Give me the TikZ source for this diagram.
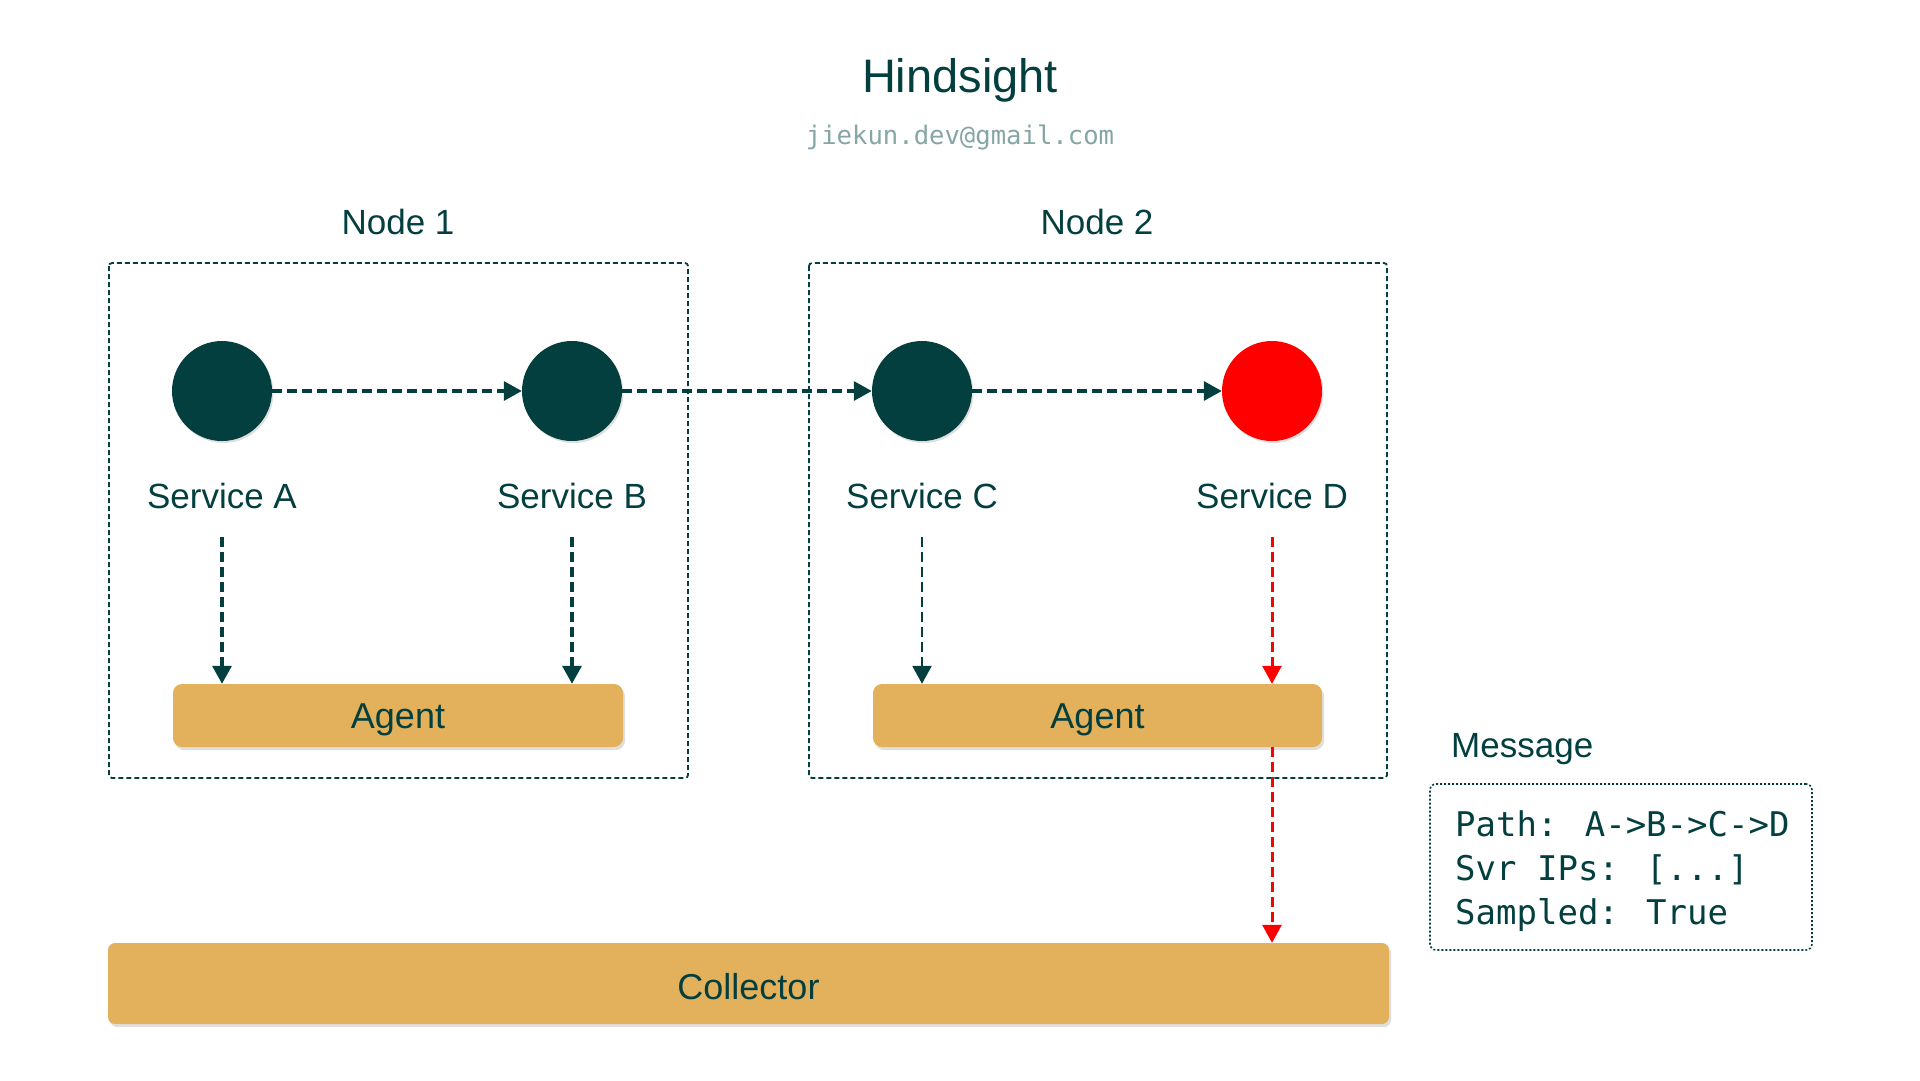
\documentclass[tikz,border=0pt]{standalone}
\usepackage{fontspec}
\setmainfont{Liberation Sans}
\newfontfamily\monofont{DejaVu Sans Mono}
\usetikzlibrary{arrows.meta,shadows,positioning}
\definecolor{teal}{HTML}{033F3F}
\definecolor{mailgray}{HTML}{86A6A6}
\definecolor{agentfill}{HTML}{E3B15B}
\definecolor{svcred}{HTML}{FF0000}
\begin{document}
\begin{tikzpicture}[x=1pt,y=-1pt,
  lbl/.style={text=teal,font=\fontsize{35}{40}\selectfont,inner sep=0pt},
  svc/.style={circle,minimum size=100pt,inner sep=0pt,fill=teal,
    drop shadow={shadow xshift=1.5pt,shadow yshift=-2pt,opacity=0.25}},
  hostbox/.style={draw=teal,line width=1.8pt,dash pattern=on 5pt off 3pt,rounded corners=3pt},
  bar/.style={fill=agentfill,rounded corners=9pt,text=teal,font=\fontsize{36}{40}\selectfont,
    drop shadow={shadow xshift=2pt,shadow yshift=-3pt,opacity=0.25}},
  flow/.style={draw=teal,line width=3.3pt,dash pattern=on 10pt off 5pt,
    -{Triangle[length=18pt,width=19pt]}},
  redflow/.style={draw=svcred,line width=3pt,dash pattern=on 10pt off 5pt,
    -{Triangle[length=18pt,width=19pt]}}
]
\useasboundingbox (0,0) rectangle (1920,1080);
% titles
\node[text=teal,font=\fontsize{47}{52}\selectfont,inner sep=0pt] (title) at (960,80) {Hindsight};
\node[text=mailgray,font=\monofont\fontsize{25.6}{30}\selectfont,inner sep=0pt] (mail) at (960,137) {jiekun.dev@gmail.com};
% host boxes
\node[lbl] (n1lbl) at (398,222) {Node 1};
\node[lbl] (n2lbl) at (1097,222) {Node 2};
\draw[hostbox] (109,263) rectangle (688,778);
\draw[hostbox] (809,263) rectangle (1387,778);
% services
\node[svc] (A) at (222,391) {};
\node[svc] (B) at (572,391) {};
\node[svc] (C) at (922,391) {};
\node[svc,fill=svcred] (D) at (1272,391) {};
\node[lbl] (la) at (222,496) {Service A};
\node[lbl] (lb) at (572,496) {Service B};
\node[lbl] (lc) at (922,496) {Service C};
\node[lbl] (ld) at (1272,496) {Service D};
% agents
\node[bar,minimum width=450pt,minimum height=63pt,text height=25pt,text depth=0pt] (ag1) at (398,715.5) {Agent};
\node[bar,minimum width=449pt,minimum height=63pt,text height=25pt,text depth=0pt] (ag2) at (1097.5,715.5) {Agent};
% collector
\node[bar,minimum width=1281pt,minimum height=81pt,rounded corners=7pt,text height=31pt,text depth=0pt] (col) at (748.5,983.5) {Collector};
% message
\node[lbl,anchor=west] (msglbl) at (1451,749) {Message};
\node[draw=teal,line width=1.6pt,dash pattern=on 2pt off 2pt,rounded corners=6pt,
  minimum width=382pt,minimum height=166pt] (msg) at (1621,867) {};
\node[anchor=west,text=teal,font=\monofont\fontsize{34}{44}\selectfont,align=left,inner sep=0pt]
  (msgtxt) at (1455,871) {Path: A->B->C->D\\Svr IPs: [...]\\Sampled: True};
% horizontal flow
\draw[flow] (A) -- (B);
\draw[flow] (B) -- (C);
\draw[flow] (C) -- (D);
% vertical flows
\coordinate (sa) at (222,537);
\coordinate (sb) at (572,537);
\coordinate (sc) at (922,537);
\coordinate (sd) at (1272,537);
\draw[flow] (sa) -- (sa |- ag1.north);
\draw[flow] (sb) -- (sb |- ag1.north);
\draw[flow,line width=2.6pt] (sc) -- (sc |- ag2.north);
\draw[redflow] (sd) -- (sd |- ag2.north);
\draw[redflow] (sd |- ag2.south) -- (sd |- col.north);
\end{tikzpicture}
\end{document}
